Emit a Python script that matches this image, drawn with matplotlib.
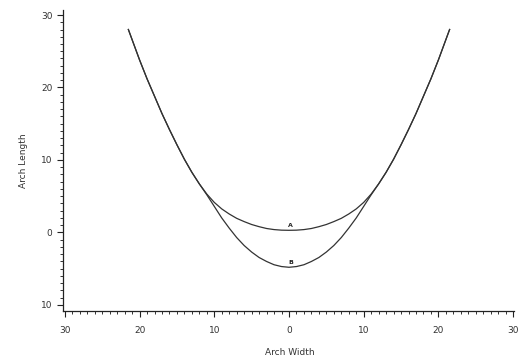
import matplotlib
matplotlib.use("Agg")
import matplotlib.pyplot as plt
from matplotlib.ticker import FixedLocator, FixedFormatter, MultipleLocator

# Curve A (upper) and curve B (lower)
x_vals = [-21.5, -21, -20, -19, -18, -17, -16, -15, -14, -13, -12, -11, -10, -9, -8, -7, -6, -5, -4, -3, -2, -1, 0,
          1, 2, 3, 4, 5, 6, 7, 8, 9, 10, 11, 12, 13, 14, 15, 16, 17, 18, 19, 20, 21, 21.5]
curve_a = [28.0, 26.6, 23.8, 21.2, 18.8, 16.4, 14.2, 12.1, 10.1, 8.3, 6.7, 5.3, 4.15, 3.25, 2.55, 1.95, 1.5, 1.1, 0.8, 0.55, 0.4, 0.32, 0.3,
           0.32, 0.4, 0.55, 0.8, 1.1, 1.5, 1.95, 2.55, 3.25, 4.15, 5.3, 6.7, 8.3, 10.1, 12.1, 14.2, 16.4, 18.8, 21.2, 23.8, 26.6, 28.0]
curve_b = [28.0, 26.6, 23.8, 21.2, 18.8, 16.4, 14.2, 12.1, 10.1, 8.3, 6.7, 5.2, 3.6, 2.0, 0.6, -0.7, -1.8, -2.7, -3.45, -4.0, -4.45, -4.7, -4.8,
           -4.7, -4.45, -4.0, -3.45, -2.7, -1.8, -0.7, 0.6, 2.0, 3.6, 5.2, 6.7, 8.3, 10.1, 12.1, 14.2, 16.4, 18.8, 21.2, 23.8, 26.6, 28.0]

x_ticks = [-30, -20, -10, 0, 10, 20, 30]
x_tick_labels = ["30", "20", "10", "0", "10", "20", "30"]
y_ticks = [-10, 0, 10, 20, 30]
y_tick_labels = ["10", "0", "10", "20", "30"]

fig = plt.figure(figsize=(5.26, 3.61), dpi=100)
ax = fig.add_axes([63/526, 1 - 310.7/361, 451/526, 300.7/361])

line_color = "#333333"
ax.plot(x_vals, curve_a, color=line_color, lw=0.9)
ax.plot(x_vals, curve_b, color=line_color, lw=0.9)
ax.text(0.2, 0.9, "A", fontsize=4.5, ha="center", va="center", color="#222222", fontweight="bold")
ax.text(0.2, -4.2, "B", fontsize=4.5, ha="center", va="center", color="#222222", fontweight="bold")

ax.set_xlim(-30.25, 30.12)
ax.set_ylim(-10.79, 30.69)

ax.xaxis.set_major_locator(FixedLocator(x_ticks))
ax.xaxis.set_major_formatter(FixedFormatter(x_tick_labels))
ax.xaxis.set_minor_locator(MultipleLocator(1))
ax.yaxis.set_major_locator(FixedLocator(y_ticks))
ax.yaxis.set_major_formatter(FixedFormatter(y_tick_labels))
ax.yaxis.set_minor_locator(MultipleLocator(1))

for s in ["top", "right"]:
    ax.spines[s].set_visible(False)
for s in ["left", "bottom"]:
    ax.spines[s].set_color("#222222")
    ax.spines[s].set_linewidth(0.9)

ax.tick_params(axis="both", which="major", direction="out", length=4, width=0.8,
               colors="#222222", labelsize=6.5, labelcolor="#333333")
ax.tick_params(axis="both", which="minor", direction="out", length=2.5, width=0.7, colors="#333333")
ax.tick_params(axis="x", which="major", pad=7)
ax.tick_params(axis="y", which="major", pad=3.5)

ax.set_xlabel("Arch Width", fontsize=6.5, color="#333333")
ax.set_ylabel("Arch Length", fontsize=6.5, color="#333333")
ax.xaxis.set_label_coords(0.503, -0.125)
ax.yaxis.set_label_coords(-0.0776, 0.5)

fig.savefig("out.png", dpi=100)
